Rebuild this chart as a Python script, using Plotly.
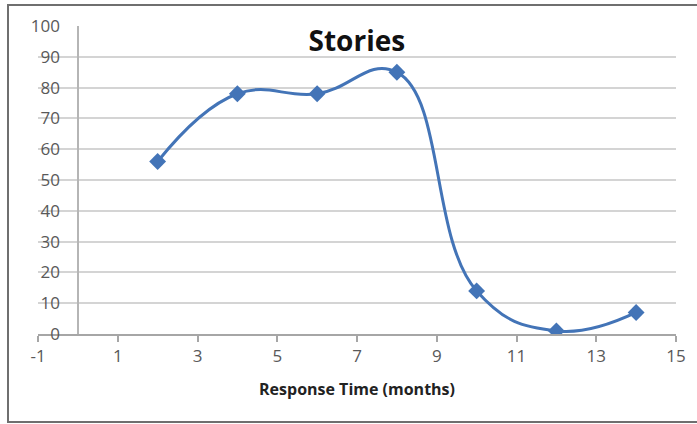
import plotly.graph_objects as go

months = [2, 4, 6, 8, 10, 12, 14]
stories = [56, 78, 78, 85, 14, 1, 7]
x_ticks = [-1, 1, 3, 5, 7, 9, 11, 13, 15]
y_ticks = [0, 10, 20, 30, 40, 50, 60, 70, 80, 90, 100]

blue = "#4374B7"
tick_font = dict(family="Open Sans", size=17, color="#595959")

fig = go.Figure()
fig.add_trace(go.Scatter(
    x=months, y=stories, mode="lines+markers",
    line=dict(color=blue, width=3, shape="spline", smoothing=1.25),
    marker=dict(symbol="diamond", size=13, color=blue),
    showlegend=False,
))

fig.update_layout(
    width=697, height=424,
    margin=dict(l=38, r=21, t=26, b=90),
    paper_bgcolor="white", plot_bgcolor="white",
    title=dict(text="<b>Stories</b>", x=0.512, xanchor="center",
               y=1 - 41 / 424, yanchor="middle", yref="container",
               font=dict(family="Open Sans", size=28, color="#111111")),
    xaxis=dict(
        range=[-1, 15], tickvals=x_ticks, ticktext=[str(v) for v in x_ticks],
        showgrid=False, zeroline=True, zerolinecolor="#B5B5B5", zerolinewidth=1.5,
        showline=True, linecolor="#A6A6A6", linewidth=1.5,
        ticks="outside", ticklen=6, tickcolor="#A6A6A6", tickwidth=1.5,
        tickfont=tick_font,
        title=dict(text="<b>Response Time (months)</b>", standoff=18,
                   font=dict(family="Open Sans", size=16, color="#222222")),
    ),
    yaxis=dict(
        range=[0, 100], tickvals=y_ticks, ticktext=[str(v) for v in y_ticks],
        showgrid=True, gridcolor="#D4D4D4", gridwidth=2,
        zeroline=False, showline=False, ticks="",
        tickfont=tick_font, ticklabelstandoff=-23,
    ),
    shapes=[dict(type="rect", xref="paper", yref="paper",
                 x0=(8 - 38) / 638, x1=(702 - 38) / 638,
                 y0=(334 - 422) / 308, y1=(334 - 5) / 308,
                 line=dict(color="#6F6F6F", width=2), layer="below")],
)

fig.write_html("out.html", config={"displayModeBar": False},
               post_script="document.body.style.margin='0';document.body.style.overflow='hidden';")
